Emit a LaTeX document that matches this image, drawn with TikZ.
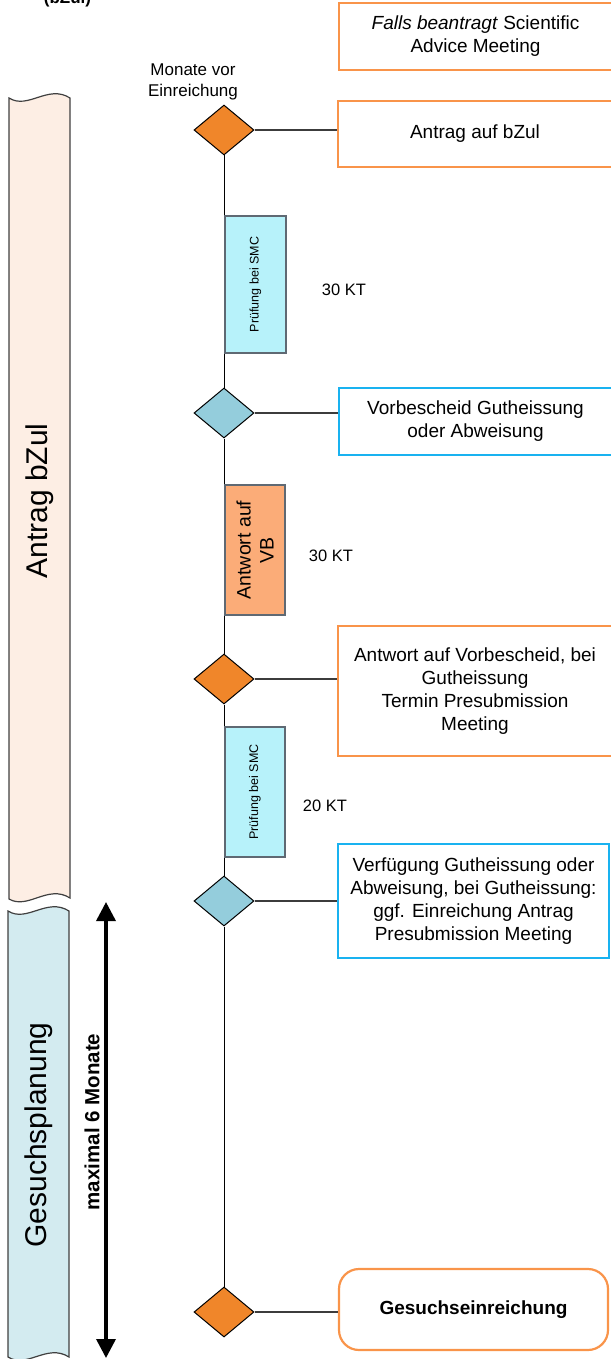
\documentclass[tikz,border=0pt]{standalone}
\usepackage{fontspec}
\setmainfont{Liberation Sans}
\usetikzlibrary{shapes.geometric,arrows.meta}

\definecolor{dOrange}{RGB}{240,134,42}
\definecolor{dBlue}{RGB}{148,205,220}
\definecolor{bOrange}{RGB}{249,148,74}
\definecolor{bBlue}{RGB}{25,178,240}
\definecolor{pCyan}{RGB}{183,242,250}
\definecolor{vbFill}{RGB}{251,172,120}
\definecolor{boxGray}{RGB}{95,105,115}
\definecolor{bandA}{RGB}{253,238,228}
\definecolor{bandB}{RGB}{211,235,240}
\definecolor{bandLine}{RGB}{64,64,64}
\definecolor{linkGray}{RGB}{60,60,60}

\begin{document}
\begin{tikzpicture}[x=1pt,y=-1pt,
  diam/.style={diamond, draw=black, line width=1pt, minimum width=60pt, minimum height=50pt, inner sep=0pt},
  dor/.style={diam, fill=dOrange},
  dbl/.style={diam, fill=dBlue},
  evbox/.style={rectangle, line width=2pt, align=center, inner sep=0pt, font=\fontsize{19}{23}\selectfont},
  orbox/.style={evbox, draw=bOrange},
  blbox/.style={evbox, draw=bBlue},
  phase/.style={rectangle, draw=boxGray, line width=1.2pt, inner sep=0pt},
  vtext/.style={rotate=90, align=center},
  link/.style={draw=linkGray, line width=1.2pt},
  tline/.style={draw=black, line width=1pt},
  band/.style={draw=bandLine, line width=1.2pt},
  kt/.style={font=\fontsize{16.5}{19}\selectfont}
]
\useasboundingbox (0,0) rectangle (610,1359);

% bands
\path[band, fill=bandA] (9,98) .. controls (28,110) and (48,84) .. (70,98)
  -- (70,898) .. controls (48,884) and (28,910) .. (9,899) -- cycle;
\path[band, fill=bandB] (8,911) .. controls (27,923) and (47,897) .. (69,911)
  -- (69,1357) .. controls (47,1343) and (27,1369) .. (8,1357) -- cycle;
\node[rotate=90, font=\fontsize{30}{34}\selectfont] (tA) at (40,501) {Antrag bZul};
\node[rotate=90, font=\fontsize{30}{34}\selectfont] (tB) at (39,1135) {Gesuchsplanung};

% title (cut off at the top, as in the source)
\node[anchor=base, font=\fontsize{17}{20}\selectfont\bfseries] (title) at (67.5,3.5) {(bZul)};

% double arrow
\coordinate (arrTop) at (106,902);
\coordinate (arrBot) at (106,1358);
\draw[line width=3.5pt, {Triangle[length=19pt,width=19pt]}-{Triangle[length=19pt,width=19pt]}] (arrTop) -- (arrBot);
\node[rotate=90, font=\fontsize{20.5}{24}\selectfont\bfseries] (maxm) at (92,1122) {maximal 6 Monate};

% header label
\node[align=center, font=\fontsize{17}{20.5}\selectfont] (mon) at (193,82) {Monate vor\\Einreichung};

% diamonds
\node[dor] (d1) at (224,130) {};
\node[dbl] (d2) at (224,413) {};
\node[dor] (d3) at (224,679) {};
\node[dbl] (d4) at (224,901) {};
\node[dor] (d5) at (224,1312) {};

% timeline
\path[tline] (d1.south) -- (d2.north);
\path[tline] (d2.south) -- (d3.north);
\path[tline] (d3.south) -- (d4.north);
\path[tline] (d4.south) -- (d5.north);

% phase rectangles
\node[phase, fill=pCyan, minimum width=61pt, minimum height=137pt] (p1) at (255.5,284.5) {};
\node[vtext, font=\fontsize{12.5}{15}\selectfont] (p1t) at (p1.center) {Prüfung bei SMC};
\node[phase, fill=vbFill, minimum width=60pt, minimum height=130pt] (vb) at (255,550) {};
\node[vtext, font=\fontsize{19.5}{23}\selectfont] (vbt) at (vb.center) {Antwort auf\\VB};
\node[phase, fill=pCyan, minimum width=60pt, minimum height=130pt] (p2) at (255,792) {};
\node[vtext, font=\fontsize{12.5}{15}\selectfont] (p2t) at (p2.center) {Prüfung bei SMC};

% durations
\node[kt] (k1) at (344,290) {30 KT};
\node[kt] (k2) at (331,556) {30 KT};
\node[kt] (k3) at (325,806) {20 KT};

% event boxes
\node[orbox, minimum width=273pt, minimum height=67pt] (bF) at (475.5,36.5) {\textit{Falls beantragt} Scientific\\Advice Meeting};
\node[orbox, minimum width=274pt, minimum height=66pt] (bA) at (475,134) {Antrag auf bZul};
\node[blbox, minimum width=273pt, minimum height=67pt] (bV) at (475.5,421.5) {Vorbescheid Gutheissung\\oder Abweisung};
\node[orbox, minimum width=274pt, minimum height=130pt] (bW) at (475,691) {Antwort auf Vorbescheid, bei\\Gutheissung\\Termin Presubmission\\Meeting};
\node[blbox, minimum width=271pt, minimum height=114pt] (bR) at (473.5,901) {Verfügung Gutheissung oder\\Abweisung, bei Gutheissung:\\ggf. Einreichung Antrag\\Presubmission Meeting};
\node[rectangle, rounded corners=20pt, draw=bOrange, line width=2.2pt, minimum width=269pt, minimum height=81pt, inner sep=0pt, font=\fontsize{19}{22}\selectfont\bfseries] (bG) at (473.5,1309.5) {Gesuchseinreichung};

% links
\path[link] (d1.east) -- (d1.east -| bA.west);
\path[link] (d2.east) -- (d2.east -| bV.west);
\path[link] (d3.east) -- (d3.east -| bW.west);
\path[link] (d4.east) -- (d4.east -| bR.west);
\path[link] (d5.east) -- (d5.east -| bG.west);
\end{tikzpicture}
\end{document}
